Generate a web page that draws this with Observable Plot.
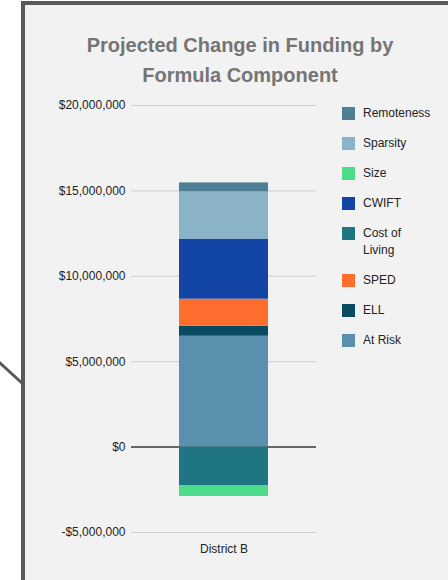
<!DOCTYPE html>
<html>
<head>
<meta charset="utf-8">
<script src="https://cdn.jsdelivr.net/npm/d3@7"></script>
<script src="https://cdn.jsdelivr.net/npm/@observablehq/plot@0.6"></script>
<style>
  html, body { margin: 0; padding: 0; background: #ffffff; }
  body { width: 448px; height: 580px; overflow: hidden; font-family: "Liberation Sans", Arial, sans-serif; }
  #page { position: relative; width: 448px; height: 580px; overflow: hidden; }
  #panel {
    position: absolute; left: 21px; top: 1px; width: 460px; height: 620px;
    background: #f2f2f2; border-left: 4px solid #595959; border-top: 4px solid #595959;
  }
  #pointer { position: absolute; left: 0; top: 0; }
  #title {
    position: absolute; left: 24px; width: 432px; top: 30px; text-align: center;
    font-size: 20px; line-height: 30px; font-weight: bold; color: #757575;
  }
  #chart { position: absolute; left: 0; top: 0; }
  #legend { position: absolute; left: 342px; top: 105px; }
  .item { display: flex; align-items: flex-start; margin-bottom: 13px; }
  .sw { width: 13px; height: 13px; margin-top: 2px; flex: none; }
  .lab { margin-left: 8px; width: 70px; font-size: 12px; line-height: 17px; color: #222; }
</style>
</head>
<body>
<div id="page">
  <div id="panel"></div>
  <svg id="pointer" width="30" height="400"><line x1="-1" y1="362" x2="23" y2="384" stroke="#595959" stroke-width="3"/></svg>
  <div id="title">Projected Change in Funding by<br>Formula Component</div>
  <div id="chart"></div>
  <div id="legend"></div>
</div>
<script>
// Funding components for the district, in stacking order (bottom up)
const districts = ["District B"];
const components = ["At Risk", "ELL", "SPED", "Cost of Living", "CWIFT", "Size", "Sparsity", "Remoteness"];
const values = [6490000, 590000, 1580000, -2250000, 3520000, -640000, 2760000, 530000];
const colors = ["#5b8fae", "#0b4a63", "#ff6d2f", "#1f7682", "#1245a5", "#4cdc8b", "#8ab3c7", "#4e7f93"];
const yTicks = [-5000000, 0, 5000000, 10000000, 15000000, 20000000];

const rows = components.map((c, i) => ({district: districts[0], component: c, value: values[i]}));

const money = (v) => (v < 0 ? "-$" : "$") + d3.format(",.0f")(Math.abs(v));

const chart = Plot.plot({
  width: 448,
  height: 580,
  marginTop: 105,
  marginBottom: 48,
  marginLeft: 131,
  marginRight: 132,
  style: {background: "transparent", fontFamily: "'Liberation Sans', Arial, sans-serif", fontSize: "12px", color: "#222"},
  x: {domain: districts, padding: 0.35, label: null},
  y: {domain: [-5000000, 20000000], label: null},
  color: {domain: components, range: colors},
  marks: [
    Plot.ruleY(yTicks.filter((d) => d !== 0), {stroke: "#cccccc", strokeWidth: 1}),
    Plot.ruleY([0], {stroke: "#666666", strokeWidth: 2}),
    Plot.barY(rows, Plot.stackY({x: "district", y: "value", fill: "component", order: null})),
    Plot.axisY({ticks: yTicks, tickSize: 0, tickPadding: 6, tickFormat: money, label: null}),
    Plot.axisX({tickSize: 0, tickPadding: 12, label: null})
  ]
});
document.getElementById("chart").appendChild(chart);

// Legend lists the components top to bottom, opposite to stacking order
const legend = document.getElementById("legend");
components.slice().reverse().forEach((c) => {
  const item = document.createElement("div");
  item.className = "item";
  const sw = document.createElement("div");
  sw.className = "sw";
  sw.style.background = colors[components.indexOf(c)];
  const lab = document.createElement("div");
  lab.className = "lab";
  lab.textContent = c;
  item.appendChild(sw);
  item.appendChild(lab);
  legend.appendChild(item);
});
</script>
</body>
</html>
